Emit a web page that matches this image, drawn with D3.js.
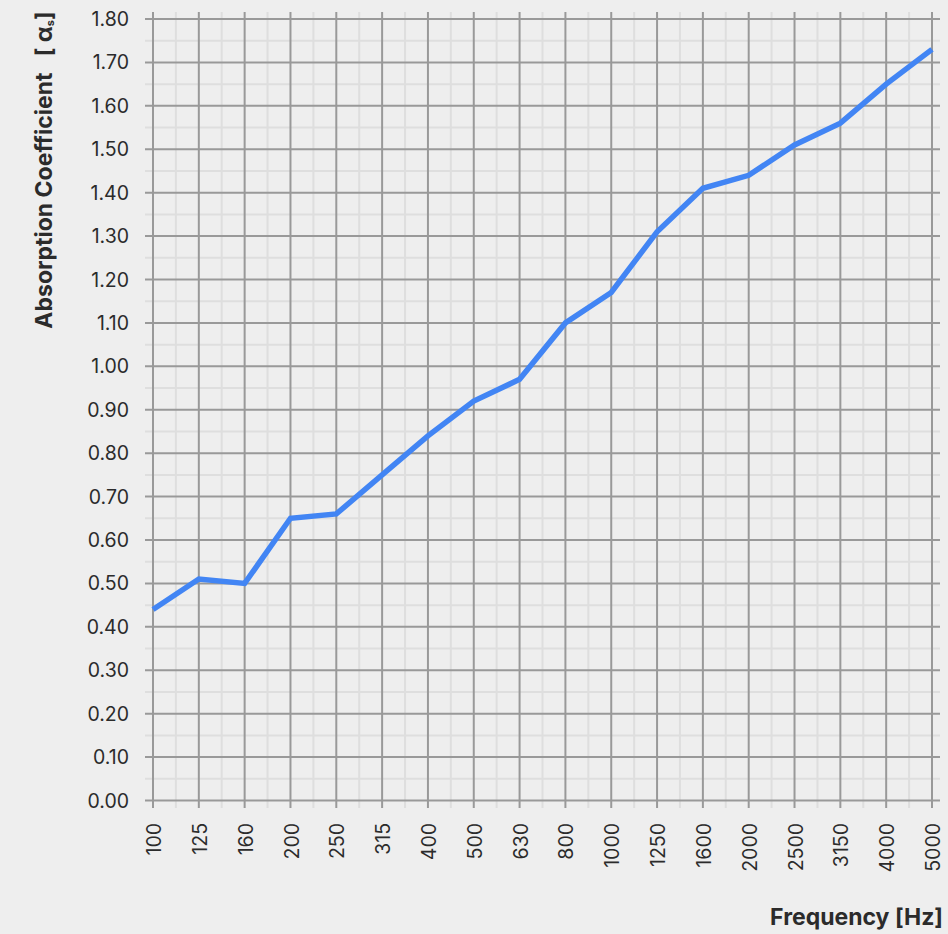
<!DOCTYPE html>
<html>
<head>
<meta charset="utf-8">
<script src="https://cdn.jsdelivr.net/npm/d3@7"></script>
<style>
  html, body { margin: 0; padding: 0; background: #eeeeee; }
  svg { display: block; font-family: Inter, "Noto Sans", sans-serif; }
  .title { white-space: pre; }
</style>
</head>
<body>
<svg id="chart" width="948" height="934"></svg>
<script>
// Third-octave band centre frequencies (Hz)
const frequencies = ["100", "125", "160", "200", "250", "315", "400", "500", "630",
  "800", "1000", "1250", "1600", "2000", "2500", "3150", "4000", "5000"];
// Sound absorption coefficient per band
const absorption = [0.44, 0.51, 0.50, 0.65, 0.66, 0.75, 0.84, 0.92, 0.97,
  1.10, 1.17, 1.31, 1.41, 1.44, 1.51, 1.56, 1.65, 1.73];
// Y tick values
const yTicks = [0, 0.1, 0.2, 0.3, 0.4, 0.5, 0.6, 0.7, 0.8, 0.9, 1.0,
  1.1, 1.2, 1.3, 1.4, 1.5, 1.6, 1.7, 1.8];
const yMinorTicks = d3.range(0.05, 1.8, 0.1);

const svg = d3.select("#chart");
const plot = { left: 153, right: 932, top: 19, bottom: 800.5 };

const x = d3.scalePoint().domain(frequencies).range([plot.left, plot.right]);
const y = d3.scaleLinear().domain([0, 1.8]).range([plot.bottom, plot.top]);

const grid = svg.append("g");
const step = x.step();

// minor vertical lines between bands
grid.selectAll("line.vminor")
  .data(frequencies.slice(0, -1))
  .join("line")
  .attr("x1", d => x(d) + step / 2).attr("x2", d => x(d) + step / 2)
  .attr("y1", plot.top - 7).attr("y2", plot.bottom + 7.5)
  .attr("stroke", "#dedede").attr("stroke-width", 2);

// minor horizontal lines
grid.selectAll("line.hminor")
  .data(yMinorTicks)
  .join("line")
  .attr("x1", plot.left - 8).attr("x2", plot.right + 8)
  .attr("y1", d => y(d)).attr("y2", d => y(d))
  .attr("stroke", "#dedede").attr("stroke-width", 2);

// major vertical lines
grid.selectAll("line.vmajor")
  .data(frequencies)
  .join("line")
  .attr("x1", d => x(d)).attr("x2", d => x(d))
  .attr("y1", plot.top - 7).attr("y2", plot.bottom + 7.5)
  .attr("stroke", "#999999").attr("stroke-width", 2);

// major horizontal lines
grid.selectAll("line.hmajor")
  .data(yTicks)
  .join("line")
  .attr("x1", plot.left - 8).attr("x2", plot.right + 8)
  .attr("y1", d => y(d)).attr("y2", d => y(d))
  .attr("stroke", "#999999").attr("stroke-width", 2);

// y tick labels
svg.append("g")
  .selectAll("text")
  .data(yTicks)
  .join("text")
  .attr("x", 129)
  .attr("y", d => y(d))
  .attr("dy", "0.36em")
  .attr("text-anchor", "end")
  .attr("font-size", 19.5)
  .attr("fill", "#2b2b2b")
  .text(d => d.toFixed(2));

// x tick labels, rotated
svg.append("g")
  .selectAll("text")
  .data(frequencies)
  .join("text")
  .attr("transform", d => `translate(${x(d) + 1},823) rotate(-90)`)
  .attr("dy", "0.36em")
  .attr("text-anchor", "end")
  .attr("font-size", 19.5)
  .attr("fill", "#2b2b2b")
  .text(d => d);

// absorption curve
const line = d3.line()
  .x((d, i) => x(frequencies[i]))
  .y(d => y(d));
svg.append("path")
  .datum(absorption)
  .attr("d", line)
  .attr("fill", "none")
  .attr("stroke", "#4285f4")
  .attr("stroke-width", 5.5)
  .attr("stroke-linejoin", "miter");

// axis titles
const yTitle = svg.append("text")
  .attr("class", "title")
  .attr("transform", "translate(52,170) rotate(-90)")
  .attr("text-anchor", "middle")
  .attr("font-size", 23)
  .attr("font-weight", "bold")
  .attr("fill", "#2b2b2b");
yTitle.append("tspan").text("Absorption Coefficient   [ α");
yTitle.append("tspan").attr("font-size", 11).attr("dy", 2).text("s");
yTitle.append("tspan").attr("dy", -2).text("]");

svg.append("text")
  .attr("x", 943)
  .attr("y", 925)
  .attr("text-anchor", "end")
  .attr("font-size", 23)
  .attr("font-weight", "bold")
  .attr("fill", "#2b2b2b")
  .text("Frequency [Hz]");
</script>
</body>
</html>
